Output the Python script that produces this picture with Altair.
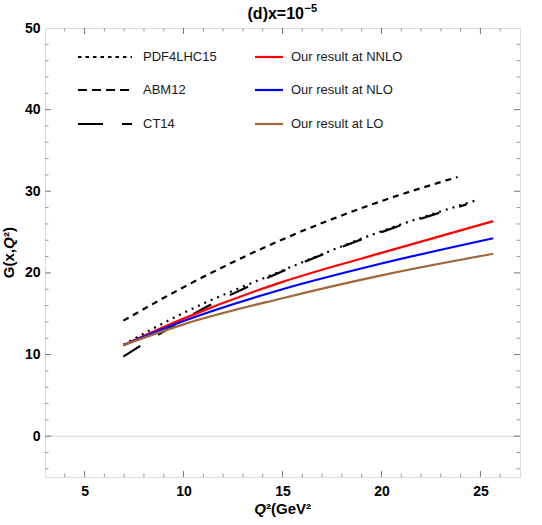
import altair as alt
import pandas as pd

# ---- data ----
q_pdf = [6.96, 10, 15, 20, 24.8]
g_pdf = [11.2, 15.1, 20.3, 25.1, 28.9]

q_abm = [6.96, 10, 15, 20, 23.85]
g_abm = [14.15, 18.25, 24.1, 28.8, 31.75]

q_ct = [6.96, 7.9, 10.9, 15, 20, 24.3]
g_ct = [9.75, 11.2, 15.5, 20.2, 25.0, 28.4]

q_ours = [6.96, 10, 15, 20, 25.65]
g_nnlo = [11.15, 14.4, 18.9, 22.45, 26.35]
g_nlo = [11.15, 14.1, 18.0, 21.15, 24.25]
g_lo = [11.15, 13.7, 16.9, 19.7, 22.35]

x_major = [5, 10, 15, 20, 25]
x_minor = [4, 6, 7, 8, 9, 11, 12, 13, 14, 16, 17, 18, 19, 21, 22, 23, 24, 26]
y_major = [0, 10, 20, 30, 40]
y_minor = [-4, -2, 2, 4, 6, 8, 12, 14, 16, 18, 22, 24, 26, 28, 32, 34, 36, 38, 42, 44, 46, 48]
y_labels = [0, 10, 20, 30, 40, 50]

W, H = 475, 449
FONT = "Liberation Sans"
xs = alt.Scale(domain=[3, 27], nice=False, zero=False)
ys = alt.Scale(domain=[-5, 50], nice=False, zero=False)

xaxis = alt.Axis(values=x_major, ticks=False, tickSize=0, domain=False, grid=False,
                 labelFont=FONT, labelFontSize=14, labelFontWeight="bold",
                 labelColor="#000", labelPadding=7, title=None)
yaxis = alt.Axis(values=y_labels, ticks=False, tickSize=0, domain=False, grid=False,
                 labelFont=FONT, labelFontSize=14, labelFontWeight="bold",
                 labelColor="#000", labelPadding=5, title=None)


def X(f):
    return alt.X(f, type="quantitative", scale=xs, axis=xaxis, title=None)


def Y(f):
    return alt.Y(f, type="quantitative", scale=ys, axis=yaxis, title=None)


series = [
    ("PDF4LHC15", q_pdf, g_pdf, "black", [2, 5], [3.5, 4], "left", 0),
    ("ABM12", q_abm, g_abm, "black", [6, 5], [9, 5], "left", 1),
    ("CT14", q_ct, g_ct, "black", [20, 21], [25, 19], "left", 2),
    ("Our result at NNLO", q_ours, g_nnlo, "#ff0000", None, None, "right", 0),
    ("Our result at NLO", q_ours, g_nlo, "#0000ff", None, None, "right", 1),
    ("Our result at LO", q_ours, g_lo, "#a0683a", None, None, "right", 2),
]

layers = []

# zero line
zero_df = pd.DataFrame({"y": [0]})
layers.append(
    alt.Chart(zero_df).mark_rule(color="#d4d4d4", strokeWidth=1).encode(
        y=Y("y"), x=alt.value(0), x2=alt.value(W),
    )
)

# axis carrier
ax_df = pd.DataFrame({"x": [5], "y": [0]})
layers.append(alt.Chart(ax_df).mark_point(opacity=0).encode(x=X("x"), y=Y("y")))


# frame ticks (inward)
def xticks(vals, length, color):
    df = pd.DataFrame({"v": vals})
    out = []
    for (a, b) in [(H, H - length), (0, length)]:
        out.append(alt.Chart(df).mark_rule(color=color, strokeWidth=1).encode(
            x=X("v"), y=alt.value(a), y2=alt.value(b)))
    return out


def yticks(vals, length, color):
    df = pd.DataFrame({"v": vals})
    out = []
    for (a, b) in [(0, length), (W, W - length)]:
        out.append(alt.Chart(df).mark_rule(color=color, strokeWidth=1).encode(
            y=Y("v"), x=alt.value(a), x2=alt.value(b)))
    return out


layers += xticks(x_major, 6, "#777777") + xticks(x_minor, 3.5, "#999999")
layers += yticks(y_major, 6, "#777777") + yticks(y_minor, 3.5, "#999999")

# curves
for name, q, g, col, dash, ldash, side, row in series:
    df = pd.DataFrame({"q": q, "g": g})
    kw = dict(color=col, strokeWidth=2.2, interpolate="monotone", clip=True)
    if dash:
        kw["strokeDash"] = dash
    layers.append(alt.Chart(df).mark_line(**kw).encode(x=X("q"), y=Y("g")))

# legend
rows_y = [29, 62, 96]
for name, q, g, col, dash, ldash, side, row in series:
    if side == "left":
        x0, x1, tx = 33, 87, 98
    else:
        x0, x1, tx = 210, 238, 246
    kw = dict(color=col, strokeWidth=2.2)
    if ldash:
        kw["strokeDash"] = ldash
    ldf = pd.DataFrame({"label": [name]})
    layers.append(alt.Chart(ldf).mark_rule(**kw).encode(
        x=alt.value(x0), x2=alt.value(x1), y=alt.value(rows_y[row])))
    layers.append(alt.Chart(ldf).mark_text(align="left", baseline="middle", font=FONT, fontSize=13,
                                           color="#1a1a1a").encode(
        text="label:N", x=alt.value(tx), y=alt.value(rows_y[row])))


# titles (with italic Q and real superscripts)
def txt(s, x, y, align, size=15, italic=False, angle=0, baseline="middle"):
    df = pd.DataFrame({"t": [s]})
    kw = dict(align=align, baseline=baseline, font=FONT, fontSize=size, fontWeight="bold", color="#000")
    if italic:
        kw["fontStyle"] = "italic"
    if angle:
        kw["angle"] = angle
    return alt.Chart(df).mark_text(**kw).encode(text="t:N", x=alt.value(x), y=alt.value(y))


layers.append(txt("(d)x=10", 259, -9, "right", size=16, baseline="alphabetic"))
layers.append(txt("−5", 259.5, -16, "left", size=11, baseline="alphabetic"))
layers.append(txt("Q", 221, H + 32, "right", italic=True))
layers.append(txt("²(GeV²", 221, H + 32, "left"))
layers.append(txt("G(x,", -36, 221, "right", angle=270))
layers.append(txt("Q", -36, 221, "left", italic=True, angle=270))
layers.append(txt("²)", -36, 209, "left", angle=270))

chart = alt.layer(*layers).properties(
    width=W, height=H,
    autosize=alt.AutoSizeParams(type="none"),
    padding={"left": 45, "top": 28, "right": 22, "bottom": 48},
).configure_view(stroke="#444444", strokeWidth=1).configure(background="white")

chart.save("out.html", embed_options={"renderer": "svg", "actions": False})
